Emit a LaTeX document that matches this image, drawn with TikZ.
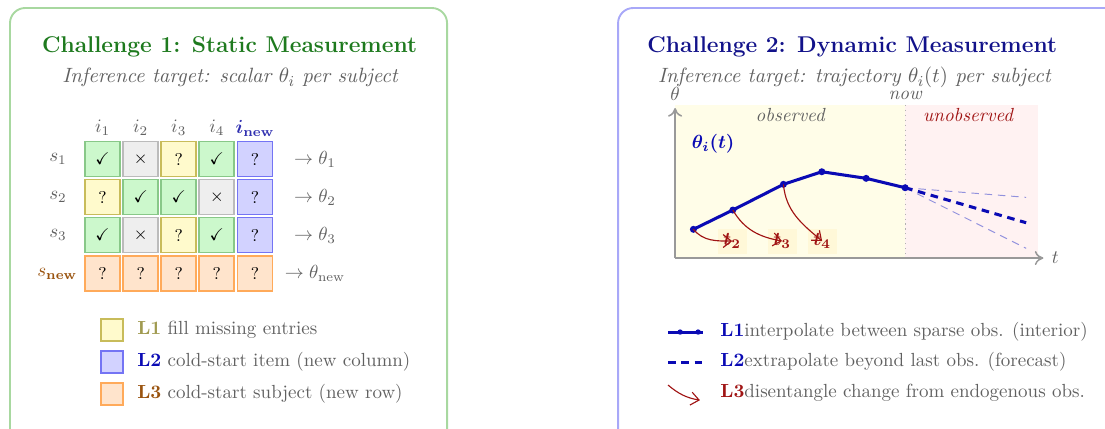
\documentclass[tikz,border=0pt]{standalone}
\usepackage{amsmath,amssymb}
\usepackage{xcolor}
\definecolor{TitleGreen}{HTML}{1E7A1E}
\definecolor{TitleBlue}{HTML}{12128A}
\definecolor{PanelGreen}{HTML}{A8D8A0}
\definecolor{PanelBlue}{HTML}{A8A8F8}
\definecolor{TextGray}{HTML}{606060}
\definecolor{OkFill}{HTML}{CCF8CC}
\definecolor{OkDraw}{HTML}{88C888}
\definecolor{NoFill}{HTML}{EEEEEE}
\definecolor{NoDraw}{HTML}{BBBBBB}
\definecolor{MissFill}{HTML}{FFFACC}
\definecolor{MissDraw}{HTML}{C8BC5A}
\definecolor{ItemFill}{HTML}{D2D2FF}
\definecolor{ItemDraw}{HTML}{7474F4}
\definecolor{ItemText}{HTML}{3030B0}
\definecolor{SubjFill}{HTML}{FFE4CC}
\definecolor{SubjDraw}{HTML}{FFAA5A}
\definecolor{LOneOlive}{HTML}{A09A50}
\definecolor{SubjBrown}{HTML}{9A5410}
\definecolor{TrajBlue}{HTML}{0A0AB4}
\definecolor{ChangeRed}{HTML}{A01414}
\definecolor{ObsFill}{HTML}{FFFDE8}
\definecolor{UnobsFill}{HTML}{FFF2F2}
\definecolor{LabFill}{HTML}{FFF8D8}
\usepackage{tikz}
\usetikzlibrary{arrows.meta}
\tikzset{
  panelbox/.style={
    rounded corners=8pt,
    line width=1pt
  },
  paneltitle/.style={
    font=\large\bfseries
  },
  panelsub/.style={
    font=\fontsize{10.9}{13}\selectfont\itshape,
    text=TextGray
  },
  gridhead/.style={
    text=TextGray,
    inner sep=1pt
  },
  gridcell/.style={
    minimum size=0.648cm,
    inner sep=0pt,
    line width=0.9pt,
    font=\small
  },
  cellok/.style={gridcell, draw=OkDraw, fill=OkFill},
  cellno/.style={gridcell, draw=NoDraw, fill=NoFill},
  cellmiss/.style={gridcell, draw=MissDraw, fill=MissFill},
  cellitem/.style={gridcell, draw=ItemDraw, fill=ItemFill},
  cellsubj/.style={gridcell, draw=SubjDraw, fill=SubjFill},
  legbox/.style={
    minimum size=0.407cm,
    inner sep=0pt,
    line width=0.9pt
  },
  legtext/.style={
    anchor=west,
    text=TextGray,
    inner sep=1pt
  },
  axisline/.style={
    draw=gray!80,
    line width=0.8pt,
    -{To[length=1.6mm,width=2.6mm]}
  },
  trajline/.style={
    draw=TrajBlue,
    line width=1.6pt
  },
  forecast/.style={
    draw=TrajBlue,
    line width=1.6pt,
    dash pattern=on 4pt off 3pt
  },
  bandline/.style={
    draw=TrajBlue!45,
    line width=0.5pt,
    dash pattern=on 4pt off 3pt
  },
  changearrow/.style={
    draw=ChangeRed,
    line width=0.6pt,
    -{Straight Barb[length=1.5mm,width=2.4mm]}
  },
  changelab/.style={
    fill=LabFill,
    text=ChangeRed,
    minimum width=0.537cm,
    minimum height=0.463cm,
    inner sep=0pt,
    font=\normalsize
  }
}

\begin{document}
\begin{tikzpicture}[x=1cm,y=1cm]
  \useasboundingbox (0,0) rectangle (20.46,-7.93);
  % panels
  \draw[panelbox,draw=PanelGreen] (0.185,-0.148) rectangle (8.278,-8.4);
  \draw[panelbox,draw=PanelBlue] (11.444,-0.148) rectangle (21,-8.4);
  \node[paneltitle,text=TitleGreen] (title1) at (4.25,-0.87) {Challenge 1: Static Measurement};
  \node[panelsub] (sub1) at (4.26,-1.44) {Inference target: scalar $\theta_i$ per subject};
  \node[paneltitle,text=TitleBlue] (title2) at (15.78,-0.87) {Challenge 2: Dynamic Measurement};
  \node[panelsub] (sub2) at (15.82,-1.44) {Inference target: trajectory $\theta_i(t)$ per subject};

  % challenge 1: subject x item grid
  \foreach \c/\lab in {1/i_1,2/i_2,3/i_3,4/i_4}{\node[gridhead] (h\c) at ({1.9+0.705*(\c-1)},-2.37) {$\lab$};}
  \node[gridhead,text=ItemText] (h5) at (4.722,-2.37) {$\boldsymbol{i}_{\mathbf{new}}$};
  \foreach \r/\lab in {1/s_1,2/s_2,3/s_3}{\node[gridhead] (s\r) at (1.074,{-2.944-0.705*(\r-1)}) {$\lab$};}
  \node[gridhead,text=SubjBrown] (s4) at (1.06,-5.068) {$s_{\mathbf{new}}$};
  \foreach \t/\s [count=\c] in {ok/$\checkmark$,no/$\times$,miss/?,ok/$\checkmark$,item/?}{\node[cell\t] (c1\c) at ({1.9+0.705*(\c-1)},-2.944) {\s};}
  \foreach \t/\s [count=\c] in {miss/?,ok/$\checkmark$,ok/$\checkmark$,no/$\times$,item/?}{\node[cell\t] (c2\c) at ({1.9+0.705*(\c-1)},-3.648) {\s};}
  \foreach \t/\s [count=\c] in {ok/$\checkmark$,no/$\times$,miss/?,ok/$\checkmark$,item/?}{\node[cell\t] (c3\c) at ({1.9+0.705*(\c-1)},-4.352) {\s};}
  \foreach \c in {1,...,5}{\node[cellsubj] (c4\c) at ({1.9+0.705*(\c-1)},-5.068) {?};}
  \foreach \r in {1,2,3}{\node[gridhead] (th\r) at (5.833,{-2.944-0.705*(\r-1)}) {$\to\theta_{\r}$};}
  \node[gridhead] (th4) at (5.833,-5.068) {$\to\theta_{\mathrm{new}}$};

  % challenge 1: legend
  \node[legbox,draw=MissDraw,fill=MissFill] (k1) at (2.074,-6.111) {};
  \node[legbox,draw=ItemDraw,fill=ItemFill] (k2) at (2.074,-6.704) {};
  \node[legbox,draw=SubjDraw,fill=SubjFill] (k3) at (2.074,-7.296) {};
  \node[legtext] (k1t) at (2.5,-6.111) {\textcolor{LOneOlive}{\textbf{L1}} fill missing entries};
  \node[legtext] (k2t) at (2.5,-6.704) {\textcolor{TrajBlue}{\textbf{L2}} cold-start item (new column)};
  \node[legtext] (k3t) at (2.5,-7.296) {\textcolor{SubjBrown}{\textbf{L3}} cold-start subject (new row)};

  % challenge 2: trajectory plot
  \fill[ObsFill] (12.5,-1.944) rectangle (16.759,-4.778);
  \fill[UnobsFill] (16.759,-1.944) rectangle (19.222,-4.778);
  \coordinate (o) at (12.5,-4.778);
  \coordinate (ytop) at (12.5,-2.0);
  \coordinate (xend) at (19.32,-4.778);
  \coordinate (nowtop) at (16.759,-1.944);
  \coordinate (nowbot) at (16.759,-4.778);
  \draw[gray!60,line width=0.6pt,dotted] (nowtop) -- (nowbot);
  \draw[axisline] (o) -- (ytop);
  \draw[axisline] (o) -- (xend);
  \node[text=TextGray] (thlab) at (12.5,-1.74) {$\theta$};
  \node[text=TextGray] (tlab) at (19.54,-4.778) {$t$};
  \node[text=TextGray,font=\itshape] (nowlab) at (16.759,-1.76) {now};
  \node[text=TextGray,font=\itshape] (obs) at (14.63,-2.13) {observed};
  \node[text=ChangeRed,font=\itshape] (unobs) at (17.926,-2.13) {unobserved};
  \node[text=TrajBlue] (trajlab) at (13.204,-2.66) {$\boldsymbol{\theta_i(t)}$};

  \coordinate (p1) at (12.839,-4.246);
  \coordinate (p2) at (13.569,-3.889);
  \coordinate (p3) at (14.506,-3.413);
  \coordinate (p4) at (15.217,-3.18);
  \coordinate (p5) at (16.037,-3.302);
  \coordinate (p6) at (16.759,-3.476);
  \coordinate (fmid) at (19.0,-4.124);
  \coordinate (fup) at (19.0,-3.654);
  \coordinate (flow) at (19.0,-4.598);
  \draw[bandline] (p6) -- (fup);
  \draw[bandline] (p6) -- (flow);
  \draw[forecast] (p6) -- (fmid);
  \draw[trajline] (p1) -- (p2) -- (p3) -- (p4) -- (p5) -- (p6);
  \foreach \p in {p1,p2,p3,p4,p5,p6}{\fill[TrajBlue] (\p) circle (0.065);}

  \node[changelab] (lab2) at (13.556,-4.463) {$\boldsymbol{t_2}$};
  \node[changelab] (lab3) at (14.481,-4.463) {$\boldsymbol{t_3}$};
  \node[changelab] (lab4) at (15.222,-4.463) {$\boldsymbol{t_4}$};
  \draw[changearrow] (p1) to[out=-50,in=180] (lab2.center);
  \draw[changearrow] (p2) to[out=-60,in=170] (lab3.center);
  \draw[changearrow] (p3) to[out=-85,in=140] (lab4.center);

  % challenge 2: legend
  \coordinate (m1a) at (12.37,-6.148);
  \coordinate (m1b) at (13.02,-6.148);
  \coordinate (m2a) at (12.37,-6.704);
  \coordinate (m2b) at (13.02,-6.704);
  \coordinate (m3a) at (12.37,-7.13);
  \coordinate (m3b) at (12.96,-7.41);
  \draw[trajline] (m1a) -- (m1b);
  \fill[TrajBlue] (12.593,-6.148) circle (0.05) (12.926,-6.148) circle (0.05);
  \draw[forecast] (m2a) -- (m2b);
  \draw[changearrow] (m3a) to[out=-40,in=170] (m3b);
  \node[legtext] (m1t) at (13.296,-6.148) {\textcolor{TrajBlue}{\textbf{L1}}interpolate between sparse obs. (interior)};
  \node[legtext] (m2t) at (13.296,-6.704) {\textcolor{TrajBlue}{\textbf{L2}}extrapolate beyond last obs. (forecast)};
  \node[legtext] (m3t) at (13.296,-7.278) {\textcolor{ChangeRed}{\textbf{L3}}disentangle change from endogenous obs.};
\end{tikzpicture}
\end{document}
